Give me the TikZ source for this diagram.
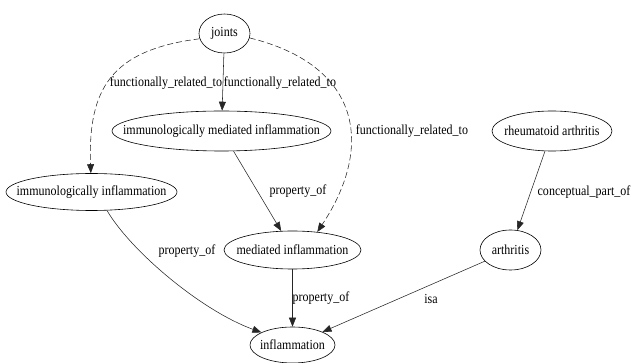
\documentclass[tikz,border=0pt]{standalone}
\usepackage{fontspec}
\setmainfont[FakeStretch=0.87]{Liberation Serif}
\usetikzlibrary{shapes.geometric,arrows.meta}
\tikzset{
  nd/.style 2 args={ellipse, draw, line width=0.6pt, inner sep=0pt, minimum width=#1pt, minimum height=#2pt, font=\fontsize{13.8}{16}\selectfont},
  lab/.style={inner sep=0pt, font=\fontsize{13.8}{16}\selectfont},
  edge/.style={line width=0.55pt, draw=black!85, -{Triangle[length=9pt,width=7pt]}},
  dsh/.style={edge, dash pattern=on 6pt off 3pt}
}
\newcommand{\tx}[1]{\makebox[0pt]{#1}}
\begin{document}
\begin{tikzpicture}[x=1pt,y=-1pt]
\useasboundingbox (0,0) rectangle (633,363);
\node[nd={51}{39}] (joints) at (224.5,33.5) {\tx{joints}};
\node[nd={219}{40}] (imd) at (221.5,131) {\tx{immunologically mediated inflammation}};
\node[nd={171}{37}] (iinf) at (91.5,192) {\tx{immunologically inflammation}};
\node[nd={120}{40}] (rheum) at (552,131) {\tx{rheumatoid arthritis}};
\node[nd={137}{38}] (med) at (292.5,250) {\tx{mediated inflammation}};
\node[nd={61}{40}] (arth) at (510.5,250) {\tx{arthritis}};
\node[nd={85}{36}] (infl) at (292.5,345) {\tx{inflammation}};

\draw[dsh] (joints.192) .. controls (110,50) and (88,90) .. (iinf.92);
\draw[edge] (joints) -- (imd);
\draw[dsh] (joints.-10) .. controls (360,65) and (375,145) .. (med.36);
\draw[edge] (imd) -- (med);
\draw[edge] (iinf.-50) .. controls (130,250) and (200,310) .. (infl.158);
\draw[edge] (med) -- (infl);
\draw[edge] (arth) -- (infl);
\draw[edge] (rheum) -- (arth);

\node[lab] (l1) at (166,83) {functionally\_related\_to};
\node[lab] (l2) at (280,83) {functionally\_related\_to};
\node[lab] (l3) at (412,131) {functionally\_related\_to};
\node[lab] (l4) at (298,191) {property\_of};
\node[lab] (l5) at (187,251) {property\_of};
\node[lab] (l6) at (321,298) {property\_of};
\node[lab] (l7) at (431,299) {isa};
\node[lab] (l8) at (584,192) {conceptual\_part\_of};
\end{tikzpicture}
\end{document}
